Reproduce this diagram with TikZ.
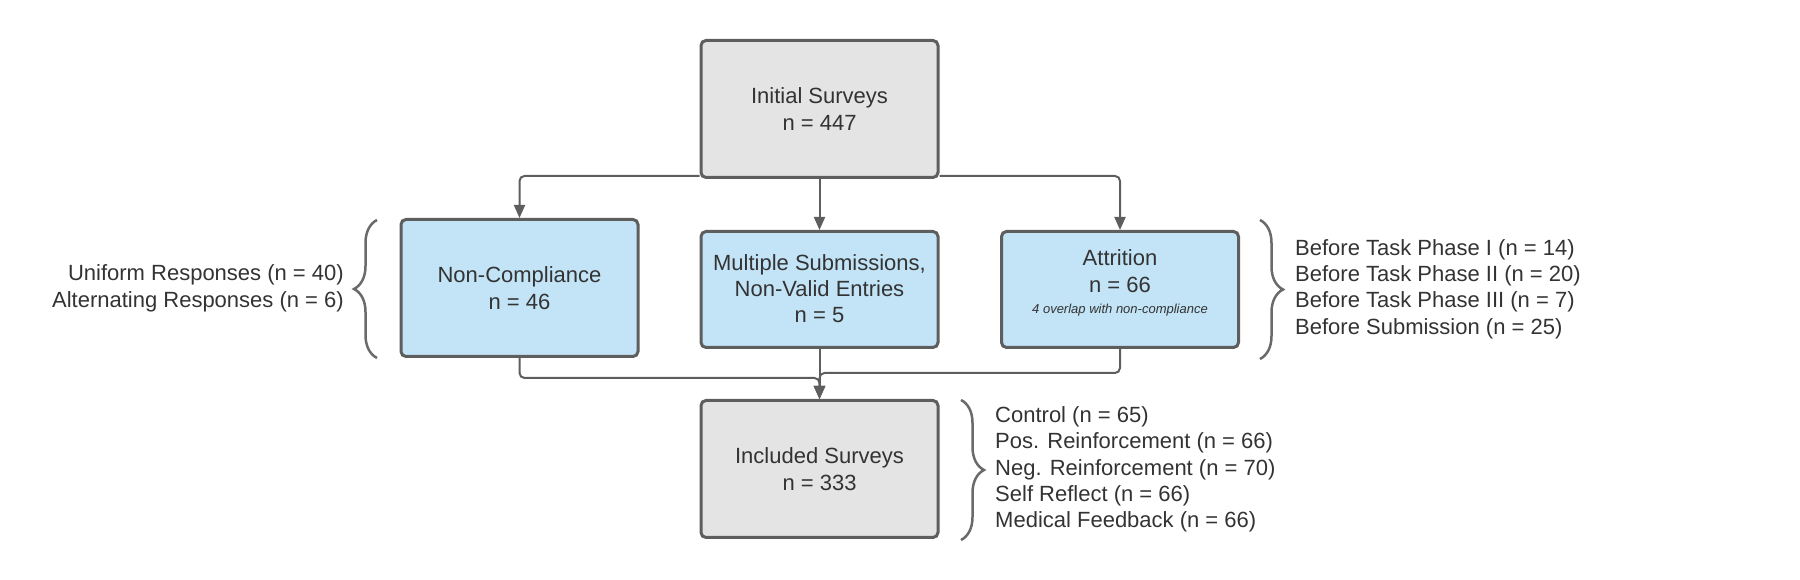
\documentclass[tikz,border=0pt]{standalone}
\usepackage{fontspec}
\setmainfont{Liberation Sans}
\usetikzlibrary{arrows.meta,decorations.pathreplacing,calc}
\definecolor{boxgray}{HTML}{E4E4E4}
\definecolor{boxblue}{HTML}{C2E4F6}
\definecolor{edge}{HTML}{5E5E5E}
\definecolor{txt}{HTML}{333333}
\definecolor{brc}{HTML}{6A6A6A}
\tikzset{
  base/.style={draw=edge, line width=3pt, rounded corners=5pt, minimum width=237pt,
    text=txt, align=center, inner sep=0pt,
    font=\fontsize{22}{26.4}\selectfont},
  graybox/.style={base, fill=boxgray, minimum height=137pt},
  bluebox/.style={base, fill=boxblue},
  conn/.style={draw=edge, line width=2pt, rounded corners=5pt,
    -{Triangle[width=11pt,length=13pt]}},
  bracestyle/.style={draw=brc, line width=2.5pt,
    decorate, decoration={brace, amplitude=23pt}},
  lbl/.style={text=txt, inner sep=0pt, font=\fontsize{22}{26.4}\selectfont}
}
\begin{document}
\begin{tikzpicture}[x=1pt,y=1pt]
\useasboundingbox (0,0) rectangle (1800,580);
\node[graybox] (init) at (819.5,471) {Initial Surveys\\n = 447};
\node[bluebox, minimum height=137pt] (nc) at (519.5,292) {Non-Compliance\\n = 46};
\node[bluebox, minimum height=116pt] (ms) at (819.5,290.5) {Multiple Submissions,\\Non-Valid Entries\\n = 5\\[-24.4pt]\mbox{}};
\node[bluebox, minimum height=116pt] (att) at (1120,290.5) {Attrition\\n = 66\\[-5pt]{\fontsize{13}{15}\selectfont\itshape 4 overlap with non-compliance}\\[-11pt]\mbox{}};
\node[graybox] (inc) at (819.5,111) {Included Surveys\\n = 333};

\draw[conn] ([yshift=3pt]init.south west) -| (nc.north);
\draw[conn] (init.south) -- (ms.north);
\draw[conn] ([yshift=3pt]init.south east) -| (att.north);

\draw[conn] (nc.south) -- ++(0,-20) -| (inc.north);
\draw[conn] (att.south) -- ++(0,-24) -| (inc.north);
\draw[conn] (ms.south) -- (inc.north);

\coordinate (lb1) at (377,222);
\coordinate (lb2) at (377,360);
\draw[bracestyle] (lb1) -- (lb2);
\coordinate (rb1) at (1260,360);
\coordinate (rb2) at (1260,221);
\draw[bracestyle] (rb1) -- (rb2);
\coordinate (bb1) at (961,180);
\coordinate (bb2) at (961,40);
\draw[bracestyle] (bb1) -- (bb2);

\node[lbl, anchor=east, align=right] (ltxt) at (344,291.5) {Uniform Responses (n = 40)\\Alternating Responses (n = 6)};
\node[lbl, anchor=west, align=left] (rtxt) at (1295,291) {Before Task Phase I (n = 14)\\Before Task Phase II (n = 20)\\Before Task Phase III (n = 7)\\Before Submission (n = 25)};
\node[lbl, anchor=west, align=left] (btxt) at (995,110.5) {Control (n = 65)\\Pos. Reinforcement (n = 66)\\Neg. Reinforcement (n = 70)\\Self Reflect (n = 66)\\Medical Feedback (n = 66)};
\end{tikzpicture}
\end{document}
